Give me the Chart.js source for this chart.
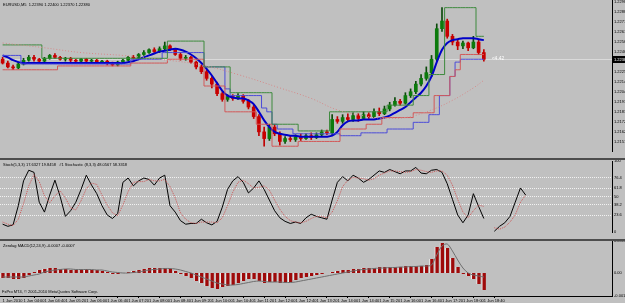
<!DOCTYPE html>
<html>
<head>
<meta charset="utf-8">
<script src="https://cdn.jsdelivr.net/npm/chart.js@4"></script>
<style>
  body { margin:0; width:625px; height:303px; overflow:hidden; position:relative; background:#4d4d4d; }
  .pane { position:absolute; left:0; width:625px; background:#c0c0c0; }
  canvas { display:block; }
</style>
</head>
<body>
<div class="pane" style="top:0;height:158px"><canvas id="mainC" width="625" height="158"></canvas></div>
<div class="pane" style="top:160px;height:79px"><canvas id="stochC" width="625" height="79"></canvas></div>
<div class="pane" style="top:241px;height:62px"><canvas id="macdC" width="625" height="62"></canvas></div>
<script>
// EURUSD M5 chart, 1 Jun 2010 — candles + channel lines, stochastic, zerolag MACD

const SLOTS = 117; // bar slots across the window

const opens = [
  1.2238,1.2234,1.2230,1.2229,1.2233,1.2237,1.2240,1.2238,1.2236,1.2239,
  1.2242,1.2240,1.2238,1.2239,1.2237,1.2236,1.2238,1.2236,1.2237,1.2235,
  1.2236,1.2234,1.2232,1.2235,1.2237,1.2240,1.2239,1.2243,1.2245,1.2248,
  1.2246,1.2249,1.2252,1.2248,1.2243,1.2239,1.2240,1.2235,1.2230,1.2225,
  1.2218,1.2212,1.2202,1.2196,1.2199,1.2197,1.2200,1.2194,1.2188,1.2178,
  1.2162,1.2155,1.2167,1.2160,1.2152,1.2155,1.2154,1.2157,1.2155,1.2158,
  1.2156,1.2159,1.2162,1.2161,1.2175,1.2173,1.2177,1.2175,1.2179,1.2176,
  1.2180,1.2178,1.2183,1.2181,1.2186,1.2190,1.2194,1.2192,1.2200,1.2204,
  1.2212,1.2218,1.2224,1.2238,1.2270,1.2278,1.2262,1.2256,1.2252,1.2255,
  1.2250,1.2256,1.2245];
const highs = [
  1.2240,1.2236,1.2232,1.2235,1.2239,1.2242,1.2242,1.2239,1.2240,1.2243,
  1.2244,1.2241,1.2240,1.2240,1.2238,1.2239,1.2239,1.2238,1.2238,1.2237,
  1.2237,1.2235,1.2236,1.2238,1.2241,1.2242,1.2244,1.2247,1.2249,1.2250,
  1.2251,1.2256,1.2253,1.2249,1.2245,1.2242,1.2241,1.2236,1.2232,1.2227,
  1.2220,1.2214,1.2204,1.2201,1.2201,1.2202,1.2201,1.2196,1.2190,1.2180,
  1.2167,1.2170,1.2170,1.2162,1.2157,1.2158,1.2159,1.2160,1.2160,1.2161,
  1.2161,1.2164,1.2164,1.2180,1.2178,1.2180,1.2181,1.2182,1.2181,1.2183,
  1.2182,1.2186,1.2187,1.2189,1.2193,1.2198,1.2196,1.2203,1.2207,1.2215,
  1.2222,1.2230,1.2242,1.2275,1.2292,1.2280,1.2264,1.2258,1.2257,1.2256,
  1.2262,1.2258,1.2248];
const lows = [
  1.2233,1.2229,1.2227,1.2228,1.2232,1.2236,1.2236,1.2234,1.2234,1.2238,
  1.2239,1.2237,1.2236,1.2235,1.2234,1.2235,1.2234,1.2235,1.2234,1.2234,
  1.2232,1.2231,1.2231,1.2234,1.2236,1.2238,1.2238,1.2242,1.2244,1.2245,
  1.2245,1.2248,1.2247,1.2242,1.2237,1.2237,1.2234,1.2228,1.2223,1.2216,
  1.2208,1.2200,1.2194,1.2194,1.2195,1.2196,1.2192,1.2186,1.2176,1.2158,
  1.2147,1.2153,1.2158,1.2148,1.2150,1.2152,1.2152,1.2153,1.2154,1.2154,
  1.2155,1.2157,1.2159,1.2159,1.2171,1.2171,1.2173,1.2173,1.2173,1.2175,
  1.2176,1.2177,1.2179,1.2180,1.2184,1.2189,1.2190,1.2191,1.2198,1.2202,
  1.2210,1.2216,1.2220,1.2236,1.2267,1.2260,1.2253,1.2248,1.2249,1.2247,
  1.2249,1.2243,1.2236];
const closes = [
  1.2234,1.2230,1.2229,1.2233,1.2237,1.2240,1.2238,1.2236,1.2239,1.2242,
  1.2240,1.2238,1.2239,1.2237,1.2236,1.2238,1.2236,1.2237,1.2235,1.2236,
  1.2234,1.2232,1.2235,1.2237,1.2240,1.2239,1.2243,1.2245,1.2248,1.2246,
  1.2249,1.2252,1.2248,1.2243,1.2239,1.2240,1.2235,1.2230,1.2225,1.2218,
  1.2212,1.2202,1.2196,1.2199,1.2197,1.2200,1.2194,1.2188,1.2178,1.2162,
  1.2155,1.2167,1.2160,1.2152,1.2155,1.2154,1.2157,1.2155,1.2158,1.2156,
  1.2159,1.2162,1.2161,1.2175,1.2173,1.2177,1.2175,1.2179,1.2176,1.2180,
  1.2178,1.2183,1.2181,1.2186,1.2190,1.2194,1.2192,1.2200,1.2204,1.2212,
  1.2218,1.2224,1.2238,1.2270,1.2278,1.2262,1.2256,1.2252,1.2255,1.2250,
  1.2256,1.2245,1.2238];

// thick blue moving average
const maFast = [
  1.2242,1.2240,1.2237,1.2235,1.2234,1.2234,1.2234,1.2234,1.2234,1.2234,
  1.2234,1.2234,1.2234,1.2234,1.2234,1.2234,1.2234,1.2234,1.2234,1.2234,
  1.2234,1.2234,1.2234,1.2234,1.2235,1.2236,1.2238,1.2240,1.2242,1.2244,
  1.2246,1.2247,1.2248,1.2249,1.2248,1.2246,1.2243,1.2239,1.2234,1.2228,
  1.2221,1.2213,1.2205,1.2200,1.2198,1.2197,1.2197,1.2195,1.2191,1.2183,
  1.2174,1.2167,1.2162,1.2160,1.2159,1.2158,1.2158,1.2157,1.2157,1.2157,
  1.2157,1.2157,1.2157,1.2158,1.2162,1.2169,1.2173,1.2174,1.2174,1.2175,
  1.2175,1.2175,1.2176,1.2177,1.2179,1.2182,1.2185,1.2188,1.2193,1.2198,
  1.2203,1.2210,1.2220,1.2235,1.2248,1.2255,1.2258,1.2259,1.2260,1.2260,
  1.2260,1.2259,1.2258];
// stepped channel lines
const chanUp = [
  1.2253,1.2253,1.2253,1.2253,1.2253,1.2253,1.2253,1.2253,1.2239,1.2239,
  1.2239,1.2239,1.2239,1.2239,1.2239,1.2239,1.2239,1.2239,1.2239,1.2239,
  1.2239,1.2239,1.2239,1.2239,1.2239,1.2239,1.2239,1.2239,1.2239,1.2239,
  1.2239,1.2239,1.2257,1.2257,1.2257,1.2257,1.2257,1.2257,1.2257,1.2230,
  1.2230,1.2230,1.2230,1.2230,1.2203,1.2203,1.2203,1.2203,1.2203,1.2203,
  1.2203,1.2203,1.2170,1.2170,1.2170,1.2170,1.2170,1.2163,1.2163,1.2163,
  1.2163,1.2163,1.2163,1.2183,1.2183,1.2183,1.2183,1.2183,1.2183,1.2183,
  1.2183,1.2183,1.2183,1.2183,1.2190,1.2190,1.2190,1.2190,1.2190,1.2200,
  1.2200,1.2200,1.2222,1.2222,1.2222,1.2292,1.2292,1.2292,1.2292,1.2292,
  1.2292,1.2262,1.2262];
const chanDn = [
  1.2227,1.2227,1.2227,1.2227,1.2227,1.2227,1.2227,1.2227,1.2227,1.2227,
  1.2227,1.2231,1.2231,1.2231,1.2231,1.2231,1.2231,1.2231,1.2231,1.2231,
  1.2231,1.2231,1.2231,1.2231,1.2231,1.2234,1.2234,1.2234,1.2234,1.2234,
  1.2234,1.2234,1.2238,1.2238,1.2238,1.2238,1.2238,1.2238,1.2238,1.2210,
  1.2210,1.2210,1.2210,1.2183,1.2183,1.2183,1.2183,1.2183,1.2183,1.2170,
  1.2170,1.2170,1.2147,1.2147,1.2147,1.2147,1.2147,1.2152,1.2152,1.2152,
  1.2152,1.2152,1.2152,1.2152,1.2152,1.2165,1.2165,1.2165,1.2165,1.2165,
  1.2170,1.2170,1.2170,1.2177,1.2177,1.2177,1.2177,1.2177,1.2177,1.2182,
  1.2182,1.2182,1.2182,1.2200,1.2200,1.2200,1.2220,1.2227,1.2243,1.2243,
  1.2243,1.2243,1.2243];
const chanMid = [
  1.2242,1.2242,1.2242,1.2242,1.2233,1.2233,1.2233,1.2233,1.2233,1.2233,
  1.2233,1.2233,1.2233,1.2233,1.2233,1.2233,1.2233,1.2233,1.2233,1.2233,
  1.2233,1.2233,1.2233,1.2233,1.2233,1.2238,1.2238,1.2238,1.2238,1.2238,
  1.2238,1.2245,1.2245,1.2245,1.2245,1.2245,1.2245,1.2245,1.2245,1.2230,
  1.2230,1.2230,1.2230,1.2207,1.2200,1.2200,1.2200,1.2200,1.2200,1.2200,
  1.2187,1.2183,1.2170,1.2165,1.2165,1.2165,1.2160,1.2160,1.2160,1.2160,
  1.2160,1.2160,1.2160,1.2160,1.2160,1.2158,1.2158,1.2158,1.2158,1.2161,
  1.2161,1.2161,1.2161,1.2161,1.2165,1.2165,1.2165,1.2165,1.2165,1.2172,
  1.2172,1.2172,1.2180,1.2180,1.2200,1.2200,1.2220,1.2235,1.2238,1.2238,
  1.2238,1.2238,1.2238];
// slow dotted average, read at a few bars
const maSlowIdx = [0,8,15,23,30,38,45,53,59,64,70,74,78,82,86,90,92];
const maSlow = [1.2255,1.2250,1.2245,1.2242,1.2238,1.2232,1.2222,1.2208,1.2197,1.2185,1.2178,1.2176,1.2178,1.2185,1.2195,1.2208,1.2216];

const stochK = [
  11,8,10,37,72,87,84,42,28,52,
  73,50,22,30,42,60,80,66,54,37,
  24,19,26,70,76,65,72,76,74,66,
  76,80,37,28,16,11,12,12,18,13,
  10,15,35,60,72,78,70,55,62,72,
  60,45,30,20,15,12,14,12,20,25,
  22,20,18,45,70,78,72,80,76,70,
  74,80,86,84,88,85,82,86,86,91,
  83,82,87,88,84,68,46,24,13,24,
  54,36,19,null,1,8,13,22,42,62,
  52];
const stochD = [
  14,11,9,18,40,65,81,71,51,41,
  51,58,48,34,31,44,61,69,67,52,
  38,27,23,38,57,70,71,71,74,72,
  72,74,64,48,27,18,13,12,14,14,
  14,13,20,37,56,70,73,68,62,63,
  65,59,45,32,22,16,14,13,15,19,
  22,22,20,28,44,64,73,77,76,75,
  73,75,80,83,86,86,85,84,85,88,
  87,85,84,86,86,80,66,46,28,20,
  30,38,36,null,6,4,7,14,24,42,
  52];

const macdHist = [
  -0.00025,-0.00025,-0.0003,-0.0003,-0.00025,-0.0001,0.00005,0.00015,0.0002,0.00025,
  0.00025,0.0002,0.0002,0.00015,0.00015,0.0002,0.0002,0.00015,0.00015,0.0001,
  0.00005,-0.00005,-0.00005,0,0.00005,0.0001,0.00015,0.0002,0.00025,0.00025,
  0.00025,0.00025,0.0002,0.0001,-0.00005,-0.00015,-0.00025,-0.0004,-0.0005,-0.00065,
  -0.00075,-0.0008,-0.0007,-0.00065,-0.0006,-0.0005,-0.0004,-0.0003,-0.0003,-0.0004,
  -0.0005,-0.00045,-0.00045,-0.0005,-0.0005,-0.00045,-0.00035,-0.00025,-0.0002,-0.00015,
  -0.0001,-0.00005,0,0.00005,0.0001,0.00015,0.00015,0.0002,0.0002,0.00025,
  0.00025,0.00025,0.0003,0.0003,0.0003,0.0003,0.0003,0.00035,0.00035,0.00035,
  0.00035,0.0004,0.0007,0.0013,0.0015,0.00125,0.00075,0.0003,-0.00005,-0.00015,
  -0.0003,-0.00055,-0.00085];
const macdSig = [
  -0.0002,-0.0002,-0.0002,-0.0002,-0.0002,-0.00015,-0.0001,-0.00005,0.00005,0.0001,
  0.00015,0.000175,0.0002,0.0002,0.000175,0.000175,0.000175,0.000175,0.00015,0.00015,
  0.0001,0.00005,0.000025,0,0,0.000025,0.00005,0.0001,0.00015,0.000175,
  0.0002,0.000225,0.000225,0.0002,0.00015,0.000075,0,-0.0001,-0.0002,-0.0003,
  -0.0004,-0.0005,-0.00055,-0.0006,-0.0006,-0.000575,-0.000525,-0.000475,-0.000425,-0.0004,
  -0.000425,-0.00045,-0.00045,-0.00045,-0.000475,-0.000475,-0.00045,-0.0004,-0.00035,-0.0003,
  -0.00025,-0.0002,-0.00015,-0.0001,-0.00005,0,0.00005,0.0001,0.00015,0.000175,
  0.0002,0.000225,0.00025,0.00025,0.000275,0.000275,0.0003,0.0003,0.000325,0.000325,
  0.00035,0.00035,0.0004,0.0009,0.00135,0.00145,0.0011,0.00065,0.00025,0,
  -0.0001,-0.00015,-0.0002];

const priceTicks = [1.22985,1.22880,1.22775,1.22670,1.22565,1.22460,1.22355,1.22250,1.22145,1.22040,1.21935,1.21830,1.21725,1.21620,1.21515];
const stochLevels = [100,76.4,61.8,50,38.2,23.6,0];
const macdTicks = [0.0016,0,-0.00115];
const timeIdx = [0,4,8,12,16,20,24,28,32,36,40,44,48,52,56,60,64,68,72,76,80,84,88,92];
const timeLabels = ['1 Jun 2010','1 Jun 04:00','1 Jun 04:40','1 Jun 05:20','1 Jun 06:00','1 Jun 06:40',
  '1 Jun 07:20','1 Jun 08:00','1 Jun 08:40','1 Jun 09:20','1 Jun 10:00','1 Jun 10:40','1 Jun 11:20',
  '1 Jun 12:00','1 Jun 12:40','1 Jun 13:20','1 Jun 14:00','1 Jun 14:40','1 Jun 15:20','1 Jun 16:00',
  '1 Jun 16:40','1 Jun 17:20','1 Jun 18:00','1 Jun 18:40'];
const bid = 1.2238;

Chart.defaults.font.family = '"Liberation Sans", Arial, sans-serif';
Chart.defaults.font.size = 4;
Chart.defaults.color = '#000';
Chart.defaults.animation = false;
Chart.defaults.plugins.legend.display = false;
Chart.defaults.plugins.tooltip.enabled = false;

const pts = arr => arr.map((v, i) => ({x: i, y: v}));
const idx = opens.map((_, i) => i);
const bull = i => closes[i] >= opens[i];

// labels, bid line and price box drawn over the panes
const overlay = {
  id: 'overlay',
  beforeDatasetsDraw(chart, args, o) {
    if (o.bid == null) return;
    const {ctx, chartArea: a, scales: {y}} = chart;
    const py = Math.round(y.getPixelForValue(o.bid)) + 0.5;
    ctx.save();
    ctx.strokeStyle = '#dadada'; ctx.lineWidth = 1;
    ctx.beginPath(); ctx.moveTo(a.left, py); ctx.lineTo(a.right, py); ctx.stroke();
    ctx.restore();
  },
  afterDraw(chart, args, o) {
    const {ctx, chartArea: a, scales: {x, y}} = chart;
    ctx.save();
    ctx.font = '4px "Liberation Sans", Arial, sans-serif';
    ctx.textBaseline = 'top';
    (o.texts || []).forEach(t => { ctx.fillStyle = '#000'; ctx.fillText(t[0], t[1], t[2]); });
    if (o.bid != null) {
      const py = Math.round(y.getPixelForValue(o.bid));
      ctx.fillStyle = '#000'; ctx.fillRect(a.right + 1, py - 3, 13, 7);
      ctx.fillStyle = '#fff'; ctx.textBaseline = 'middle';
      ctx.fillText(o.bid.toFixed(5), a.right + 2, py + 0.5);
      ctx.font = '5px "Liberation Sans", Arial, sans-serif';
      ctx.fillText(o.tag, x.getPixelForValue(o.tagAt), py);
    }
    ctx.restore();
  }
};

function xAxis(show) {
  return {
    type: 'linear', min: -0.5, max: SLOTS - 0.5, offset: false, display: show,
    afterBuildTicks: s => { s.ticks = timeIdx.map(v => ({value: v})); },
    afterFit: s => { s.height = 7; s.paddingLeft = 0; s.paddingRight = 0; },
    grid: {drawOnChartArea: false, drawTicks: true, tickLength: 2, color: '#000'},
    border: {display: true, color: '#000'},
    ticks: {autoSkip: false, maxRotation: 0, align: 'start', padding: 0,
      callback: v => timeLabels[timeIdx.indexOf(v)]}
  };
}

function yAxis(min, max, ticks, fmt, grid, dash) {
  return {
    position: 'right', min, max,
    afterBuildTicks: s => { s.ticks = ticks.map(v => ({value: v})); },
    afterFit: s => { s.width = 13; s.paddingTop = 0; s.paddingBottom = 0; },
    grid: grid || {display: false, drawTicks: false},
    border: {display: true, color: '#000', dash: dash || []},
    ticks: {padding: 2, callback: fmt}
  };
}

new Chart(document.getElementById('mainC'), {
  type: 'bar',
  data: {datasets: [
    {type: 'line', data: maSlowIdx.map((x, k) => ({x, y: maSlow[k]})), borderColor: '#d48a8a',
      borderWidth: 1, borderDash: [1, 2], pointRadius: 0, tension: 0.4, order: 0},
    {type: 'line', data: pts(chanUp), borderColor: '#3d8a3d', borderWidth: 1, pointRadius: 0, stepped: 'middle', order: 0},
    {type: 'line', data: pts(chanDn), borderColor: '#d25858', borderWidth: 1, pointRadius: 0, stepped: 'middle', order: 0},
    {type: 'line', data: pts(chanMid), borderColor: '#4b4bd8', borderWidth: 1, pointRadius: 0, stepped: 'middle', order: 0},
    {type: 'line', data: pts(maFast), borderColor: '#0000c8', borderWidth: 2, pointRadius: 0, tension: 0.3, order: 0},
    {data: idx.map(i => ({x: i, y: [lows[i], highs[i]]})), grouped: false, barThickness: 1, order: 2,
      backgroundColor: c => bull(c.dataIndex) ? '#0a4a0a' : '#c00000'},
    {data: idx.map(i => ({x: i, y: [opens[i], closes[i]]})), grouped: false, barThickness: 3, minBarLength: 1, order: 1,
      backgroundColor: c => bull(c.dataIndex) ? '#0c7a0c' : '#c80000'}
  ]},
  options: {
    responsive: false,
    layout: {padding: 0},
    scales: {
      x: xAxis(false),
      y: yAxis(1.2142, 1.2300, priceTicks, v => v.toFixed(5))
    },
    plugins: {overlay: {bid, tag: '<4.42', tagAt: 93.5,
      texts: [['EURUSD,M5  1.22390 1.22400 1.22370 1.22380', 3, 3]]}}
  },
  plugins: [overlay]
});

new Chart(document.getElementById('stochC'), {
  type: 'line',
  data: {datasets: [
    {data: pts(stochD), borderColor: '#cc5555', borderWidth: 1, borderDash: [1, 1], pointRadius: 0},
    {data: pts(stochK), borderColor: '#000', borderWidth: 1, pointRadius: 0}
  ]},
  options: {
    responsive: false,
    layout: {padding: {top: 1}},
    scales: {
      x: xAxis(false),
      y: yAxis(0, 100, stochLevels, v => String(v),
        {display: true, drawTicks: false,
         color: c => (c.tick && c.tick.value > 0 && c.tick.value < 100) ? '#f2f2f2' : 'rgba(0,0,0,0)'}, [1, 1])
    },
    plugins: {overlay: {texts: [['Stoch(5,3,3) 17.6327 19.8458   #1 Stochastic (8,3,3) 48.0567 58.3318', 3, 3]]}}
  },
  plugins: [overlay]
});

new Chart(document.getElementById('macdC'), {
  type: 'bar',
  data: {datasets: [
    {type: 'line', data: pts(macdSig), borderColor: '#6e6e6e', borderWidth: 1, pointRadius: 0, tension: 0.3, order: 0},
    {data: pts(macdHist), grouped: false, barThickness: 4, order: 1,
      backgroundColor: '#9e0a0a', borderColor: '#f2f2f2', borderWidth: {left: 1, right: 0, top: 0, bottom: 0}}
  ]},
  options: {
    responsive: false,
    layout: {padding: 0},
    scales: {
      x: xAxis(true),
      y: yAxis(-0.00115, 0.0016, macdTicks, v => v === 0 ? '0.00' : v.toFixed(4))
    },
    plugins: {overlay: {texts: [
      ['Zerolag MACD(12,24,9) -0.0007 -0.0007', 3, 3],
      ['FxPro MT4, \u00a9 2001-2010 MetaQuotes Software Corp.', 2, 49]
    ]}}
  },
  plugins: [overlay]
});
</script>
</body>
</html>
